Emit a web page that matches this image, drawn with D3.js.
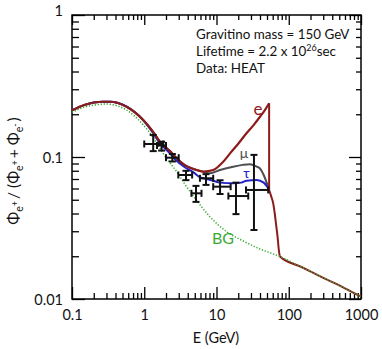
<!DOCTYPE html>
<html>
<head>
<meta charset="utf-8">
<script src="https://cdn.jsdelivr.net/npm/d3@7"></script>
<style>
  body { margin: 0; background: #fff; }
  svg { display: block; }
  text { font-family: Lato, "Open Sans", sans-serif; }
</style>
</head>
<body>
<svg id="chart" width="382" height="349"></svg>
<script>
// background (secondary positrons) - green dotted
var bgE = [0.1, 0.15, 0.2, 0.3, 0.336, 0.57, 0.97, 1.33, 1.65, 2.0, 2.8, 3.6, 4.8, 8.1, 13.8, 23.5, 40, 75.6, 150, 300, 600, 1000];
var bgV = [0.206, 0.225, 0.232, 0.236, 0.235, 0.214, 0.168, 0.137, 0.115, 0.099, 0.079, 0.065, 0.053, 0.038, 0.0298, 0.0256, 0.0225, 0.0199, 0.0168, 0.0141, 0.0119, 0.0104];

// gravitino -> e channel, rising part up to the edge
var eE = [0.1, 0.15, 0.2, 0.27, 0.335, 0.57, 0.97, 1.33, 1.65, 2.27, 2.8, 3.6, 4.8, 6.6, 9, 12, 15.4, 20, 26, 33, 40, 47, 53.5];
var eV = [0.213, 0.233, 0.242, 0.245, 0.245, 0.226, 0.182, 0.150, 0.128, 0.110, 0.098, 0.088, 0.0823, 0.079, 0.081, 0.091, 0.106, 0.124, 0.147, 0.169, 0.192, 0.215, 0.239];

// mu channel
var muE = [0.1, 0.15, 0.2, 0.27, 0.335, 0.57, 0.97, 1.33, 1.65, 2.27, 2.8, 3.6, 4.8, 6.6, 8.1, 11.2, 17, 23, 29, 36, 40, 45, 50, 53.5];
var muV = [0.213, 0.233, 0.242, 0.245, 0.245, 0.226, 0.182, 0.150, 0.128, 0.110, 0.098, 0.088, 0.0823, 0.0785, 0.0767, 0.081, 0.0855, 0.088, 0.089, 0.0855, 0.083, 0.0747, 0.065, 0.0586];

// tau channel
var tauE = [0.1, 0.15, 0.2, 0.27, 0.335, 0.57, 0.97, 1.33, 1.65, 2.27, 2.8, 3.6, 4.8, 5.9, 7.3, 9, 11.2, 17, 22, 26, 36, 45, 50, 53.5];
var tauV = [0.213, 0.233, 0.242, 0.245, 0.245, 0.226, 0.181, 0.147, 0.125, 0.106, 0.094, 0.085, 0.078, 0.072, 0.070, 0.068, 0.066, 0.0653, 0.066, 0.068, 0.069, 0.066, 0.062, 0.0586];

// common drop after the edge, joining the background
var tailE = [53.5, 57, 61, 64, 67, 70, 73, 75.6, 150, 300, 600, 1000];
var tailV = [0.0586, 0.053, 0.047, 0.040, 0.033, 0.0275, 0.022, 0.0199, 0.0168, 0.0141, 0.0119, 0.0104];

// HEAT data
var ptE   = [1.33, 1.74, 2.45, 3.78, 5.2, 7.16, 11.2, 18.6, 33];
var ptElo = [1.0, 1.5, 2.0, 2.96, 4.5, 5.9, 9.0, 14.6, 25.6];
var ptEhi = [1.83, 2.0, 3.0, 4.6, 6.2, 9.0, 15.7, 27.5, 52];
var ptV   = [0.1235, 0.1205, 0.0989, 0.0747, 0.0555, 0.0708, 0.0618, 0.0531, 0.0586];
var ptVlo = [0.110, 0.111, 0.093, 0.0687, 0.0483, 0.0636, 0.0549, 0.0396, 0.0306];
var ptVhi = [0.143, 0.128, 0.105, 0.0799, 0.0626, 0.0757, 0.0686, 0.066, 0.1035];

var xMajor = [0.1, 1, 10, 100, 1000];
var xLabels = ["0.1", "1", "10", "100", "1000"];
var yMajor = [0.01, 0.1, 1];
var yLabels = ["0.01", "0.1", "1"];

var red = "#8c1c1c", gray = "#4f4f4f", blue = "#2323c8", green = "#3aaa35";

var svg = d3.select("#chart");
var x = d3.scaleLog().domain([0.1, 1000]).range([72, 361]);
var y = d3.scaleLog().domain([0.01, 1]).range([299, 15]);

var zip = function(es, vs) { return es.map(function(e, i) { return [e, vs[i]]; }); };
var line = d3.line().x(function(d) { return x(d[0]); }).y(function(d) { return y(d[1]); }).curve(d3.curveMonotoneX);
var straight = d3.line().x(function(d) { return x(d[0]); }).y(function(d) { return y(d[1]); });

// ticks
var xMinor = x.ticks().filter(function(d) { return xMajor.indexOf(d) < 0; });
var yMinor = y.ticks().filter(function(d) { return yMajor.indexOf(d) < 0; });

function axisG(axis, tx, ty) {
  var g = svg.append("g").attr("transform", "translate(" + tx + "," + ty + ")").call(axis);
  g.select(".domain").remove();
  g.selectAll("line").attr("stroke", "#000").attr("stroke-width", 1.3);
  return g;
}
axisG(d3.axisBottom(x).tickValues(xMinor).tickSize(-6).tickFormat(""), 0, 299);
var gb = axisG(d3.axisBottom(x).tickValues(xMajor).tickSize(-12).tickPadding(11).tickFormat(function(d, i) { return xLabels[i]; }), 0, 299);
gb.selectAll("text").attr("font-size", 14.5).attr("fill", "#111");
axisG(d3.axisTop(x).tickValues(xMinor).tickSize(-5).tickFormat(""), 0, 15);
axisG(d3.axisTop(x).tickValues(xMajor).tickSize(-10).tickFormat(""), 0, 15);
axisG(d3.axisLeft(y).tickValues(yMinor).tickSize(-7).tickFormat(""), 72, 0);
var gl = axisG(d3.axisLeft(y).tickValues(yMajor).tickSize(-13).tickPadding(9).tickFormat(function(d, i) { return yLabels[i]; }), 72, 0);
gl.selectAll("text").attr("font-size", 14.5).attr("fill", "#111")
  .attr("dy", function(d) { return d === 1 ? "0" : "0.35em"; });
axisG(d3.axisRight(y).tickValues(yMinor).tickSize(-5).tickFormat(""), 361, 0);
axisG(d3.axisRight(y).tickValues(yMajor).tickSize(-12).tickFormat(""), 361, 0);

svg.append("rect").attr("x", 72).attr("y", 15).attr("width", 289).attr("height", 284)
  .attr("fill", "none").attr("stroke", "#000").attr("stroke-width", 1.5);

// curves
svg.append("path").attr("d", line(zip(muE, muV))).attr("fill", "none").attr("stroke", gray).attr("stroke-width", 2);
svg.append("path").attr("d", line(zip(tauE, tauV))).attr("fill", "none").attr("stroke", blue).attr("stroke-width", 2);
svg.append("path").attr("d", line(zip(eE, eV))).attr("fill", "none").attr("stroke", red).attr("stroke-width", 2.2);
svg.append("path").attr("d", straight([[eE[eE.length - 1], eV[eV.length - 1]], [tailE[0], tailV[0]]]))
  .attr("fill", "none").attr("stroke", red).attr("stroke-width", 2);
svg.append("path").attr("d", line(zip(tailE, tailV))).attr("fill", "none").attr("stroke", red).attr("stroke-width", 2);
svg.append("path").attr("d", line(zip(bgE, bgV))).attr("fill", "none").attr("stroke", green)
  .attr("stroke-width", 1.5).attr("stroke-dasharray", "1.3,1.7");

// error bars
var cap = 3.5;
var eb = svg.append("g").attr("stroke", "#111").attr("stroke-width", 2).attr("fill", "none");
ptE.forEach(function(e, i) {
  var cx = x(e), cy = y(ptV[i]);
  var x0 = x(ptElo[i]), x1 = x(ptEhi[i]), y0 = y(ptVlo[i]), y1 = y(ptVhi[i]);
  eb.append("line").attr("x1", x0).attr("x2", x1).attr("y1", cy).attr("y2", cy);
  eb.append("line").attr("x1", cx).attr("x2", cx).attr("y1", y0).attr("y2", y1);
  eb.append("line").attr("x1", x0).attr("x2", x0).attr("y1", cy - cap).attr("y2", cy + cap);
  eb.append("line").attr("x1", x1).attr("x2", x1).attr("y1", cy - cap).attr("y2", cy + cap);
  eb.append("line").attr("x1", cx - cap).attr("x2", cx + cap).attr("y1", y0).attr("y2", y0);
  eb.append("line").attr("x1", cx - cap).attr("x2", cx + cap).attr("y1", y1).attr("y2", y1);
});

// curve labels
svg.append("text").attr("x", 258).attr("y", 115).attr("text-anchor", "middle").attr("font-size", 17).attr("fill", red).text("e");
svg.append("text").attr("x", 244).attr("y", 158).attr("text-anchor", "middle").attr("font-size", 14).attr("fill", gray).text("μ");
svg.append("text").attr("x", 246.5).attr("y", 178).attr("text-anchor", "middle").attr("font-size", 14).attr("fill", blue).text("τ");
svg.append("text").attr("x", 212).attr("y", 244).attr("font-size", 16).attr("fill", green).text("BG");

// info block
var info = svg.append("g").attr("font-size", 13.4).attr("fill", "#111");
info.append("text").attr("x", 196).attr("y", 39).text("Gravitino mass = 150 GeV");
var lt = info.append("text").attr("x", 196).attr("y", 56);
lt.append("tspan").text("Lifetime = 2.2 x 10");
lt.append("tspan").attr("dy", -5).attr("font-size", 9).text("26");
lt.append("tspan").attr("dy", 5).text("sec");
info.append("text").attr("x", 196).attr("y", 73).text("Data: HEAT");

// axis titles
svg.append("text").attr("x", 216).attr("y", 343).attr("text-anchor", "middle").attr("font-size", 14.5).attr("fill", "#111").text("E (GeV)");

var yl = svg.append("text").attr("transform", "translate(19,171) rotate(-90)").attr("text-anchor", "middle")
  .attr("font-size", 15.5).attr("fill", "#111");
function phi(sup) {
  yl.append("tspan").text("Φ");
  yl.append("tspan").attr("dy", 4).attr("font-size", 10.5).text("e");
  yl.append("tspan").attr("dy", -5).attr("font-size", 9).text(sup);
  yl.append("tspan").attr("dy", 1).text("\u2009");
}
phi("+");
yl.append("tspan").text("/ (");
phi("+");
yl.append("tspan").text("+ ");
phi("-");
yl.append("tspan").text(")");
</script>
</body>
</html>
